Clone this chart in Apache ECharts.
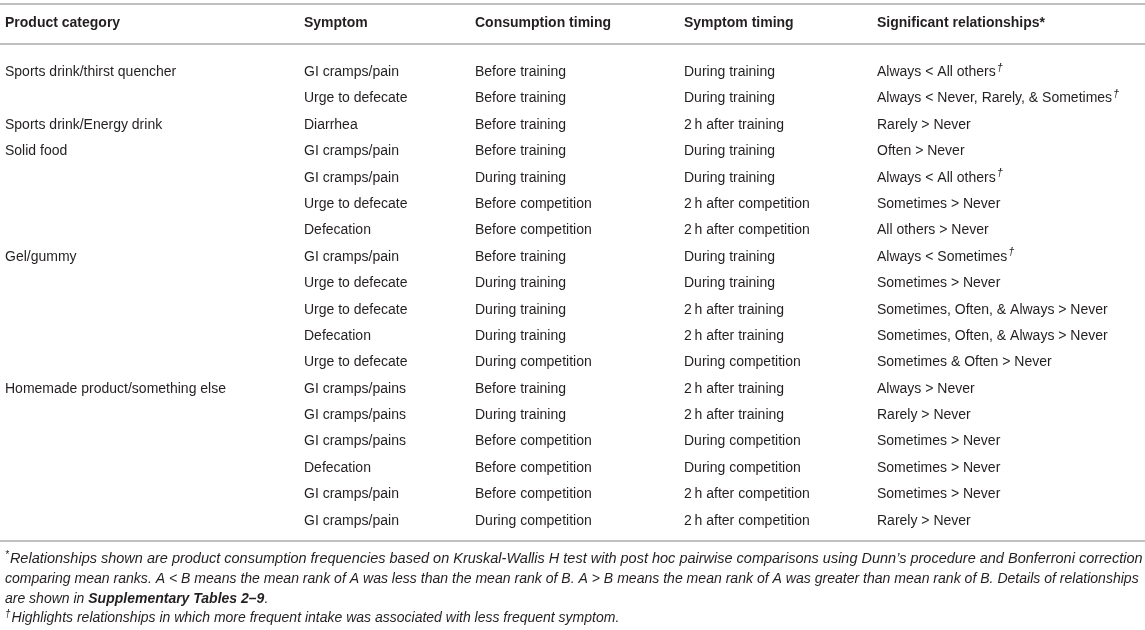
<!DOCTYPE html>
<html>
<head>
<meta charset="utf-8">
<title>Product category vs GI symptoms</title>
<script src="https://cdn.jsdelivr.net/npm/echarts@6/dist/echarts.min.js"></script>
<style>
  html, body { margin: 0; padding: 0; background: #fff; }
  #main { width: 1145px; height: 630px; }
</style>
</head>
<body>
<div id="main"></div>
<script type="text/javascript">
// table data
var headers = ['Product category', 'Symptom', 'Consumption timing', 'Symptom timing', 'Significant relationships*'];

var products = [
  'Sports drink/thirst quencher', '', 'Sports drink/Energy drink', 'Solid food', '', '', '',
  'Gel/gummy', '', '', '', '', 'Homemade product/something else', '', '', '', '', ''
];
var symptoms = [
  'GI cramps/pain', 'Urge to defecate', 'Diarrhea', 'GI cramps/pain', 'GI cramps/pain', 'Urge to defecate',
  'Defecation', 'GI cramps/pain', 'Urge to defecate', 'Urge to defecate', 'Defecation', 'Urge to defecate',
  'GI cramps/pains', 'GI cramps/pains', 'GI cramps/pains', 'Defecation', 'GI cramps/pain', 'GI cramps/pain'
];
var consumptionTiming = [
  'Before training', 'Before training', 'Before training', 'Before training', 'During training',
  'Before competition', 'Before competition', 'Before training', 'During training', 'During training',
  'During training', 'During competition', 'Before training', 'During training', 'Before competition',
  'Before competition', 'Before competition', 'During competition'
];
var symptomTiming = [
  'During training', 'During training', '2\u2009h after training', 'During training', 'During training',
  '2\u2009h after competition', '2\u2009h after competition', 'During training', 'During training',
  '2\u2009h after training', '2\u2009h after training', 'During competition', '2\u2009h after training',
  '2\u2009h after training', 'During competition', 'During competition', '2\u2009h after competition',
  '2\u2009h after competition'
];
var relationships = [
  'Always < All others', 'Always < Never, Rarely, & Sometimes', 'Rarely > Never', 'Often > Never',
  'Always < All others', 'Sometimes > Never', 'All others > Never', 'Always < Sometimes',
  'Sometimes > Never', 'Sometimes, Often, & Always > Never', 'Sometimes, Often, & Always > Never',
  'Sometimes & Often > Never', 'Always > Never', 'Rarely > Never', 'Sometimes > Never',
  'Sometimes > Never', 'Sometimes > Never', 'Rarely > Never'
];
// rows marked with a dagger
var dagger = [1, 1, 0, 0, 1, 0, 0, 1, 0, 0, 0, 0, 0, 0, 0, 0, 0, 0];

var footnotes = [
  '{sup|*}Relationships shown are product consumption frequencies based on Kruskal-Wallis H test with post hoc pairwise comparisons using Dunn\u2019s procedure and Bonferroni correction',
  'comparing mean ranks. A < B means the mean rank of A was less than the mean rank of B. A > B means the mean rank of A was greater than mean rank of B. Details of relationships',
  'are shown in {b|Supplementary Tables 2\u20139}.',
  '{sup|\u2020}Highlights relationships in which more frequent intake was associated with less frequent symptom.'
];

var columns = [products, symptoms, consumptionTiming, symptomTiming, relationships];
var rowIdx = symptoms.map(function (s, i) { return String(i); });

// layout
var colX = [4.5, 303.5, 474.5, 683.5, 876.5];
var FONT = 'Liberation Sans, Arial, Helvetica, sans-serif';
var TXT = '#231f20';
var RULE = '#ababab';

var chart = echarts.init(document.getElementById('main'), null, { renderer: 'canvas' });

var series = columns.map(function (col, c) {
  return {
    type: 'scatter',
    symbolSize: 1,
    itemStyle: { color: 'rgba(0,0,0,0)', opacity: 1 },
    silent: true,
    data: col.map(function (v, i) { return [colX[c], String(i)]; }),
    label: {
      show: true,
      position: 'right',
      distance: 0,
      color: TXT,
      fontFamily: FONT,
      fontSize: 14,
      formatter: function (p) {
        var t = col[p.dataIndex];
        if (c === 4 && dagger[p.dataIndex]) return t + '{sup|\u2020}';
        return t;
      },
      rich: {
        sup: { fontSize: 11, fontStyle: 'italic', fontFamily: FONT, color: TXT, padding: [0, 0, 9, 1] }
      }
    }
  };
});

var graphics = [
  { type: 'line', shape: { x1: 0, y1: 4, x2: 1145, y2: 4 }, style: { stroke: RULE, lineWidth: 1.5 } },
  { type: 'line', shape: { x1: 0, y1: 44, x2: 1145, y2: 44 }, style: { stroke: RULE, lineWidth: 1.5 } },
  { type: 'line', shape: { x1: 0, y1: 541, x2: 1145, y2: 541 }, style: { stroke: RULE, lineWidth: 1.5 } }
];
headers.forEach(function (h, c) {
  graphics.push({
    type: 'text', x: Math.round(colX[c]), y: 23,
    style: { text: h, fill: TXT, font: 'bold 14px ' + FONT, textVerticalAlign: 'middle' }
  });
});
var footY = [559, 579, 599, 618];
var footSize = [14.5, 14.05, 14, 14];
footnotes.forEach(function (f, i) {
  graphics.push({
    type: 'text', x: 5, y: footY[i],
    style: {
      text: f, fill: TXT, fontFamily: FONT, fontSize: footSize[i], fontStyle: 'italic', verticalAlign: 'middle',
      rich: {
        b: { fontWeight: 'bold', fontStyle: 'italic', fontSize: footSize[i], fontFamily: FONT, fill: TXT },
        sup: { fontSize: 10, fontStyle: 'italic', fontFamily: FONT, fill: TXT, padding: [0, 1, 8, 0] }
      }
    }
  });
});

var option = {
  animation: false,
  grid: { left: 0, right: 0, top: 59, bottom: 96 },
  xAxis: { type: 'value', min: 0, max: 1145, show: false },
  yAxis: { type: 'category', data: rowIdx, inverse: true, show: false },
  series: series,
  graphic: graphics
};
chart.setOption(option);
</script>
</body>
</html>
